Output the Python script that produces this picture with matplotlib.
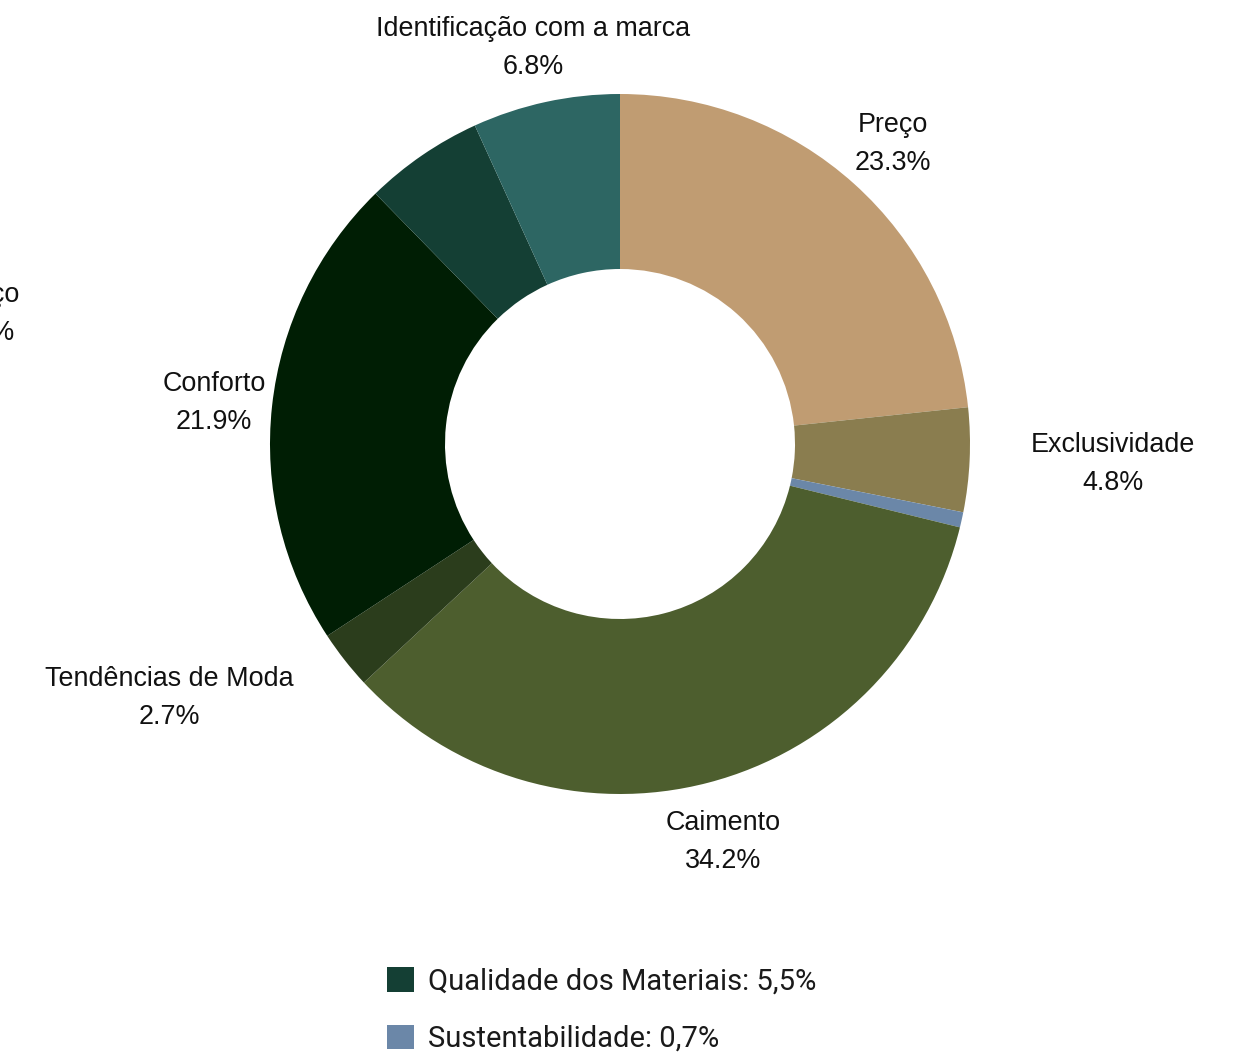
import numpy as np
import matplotlib.pyplot as plt

labels = ['Preço', 'Exclusividade', 'Sustentabilidade', 'Caimento',
          'Tendências de Moda', 'Conforto', 'Qualidade dos Materiais',
          'Identificação com a marca']
values = [23.3, 4.8, 0.7, 34.2, 2.7, 21.9, 5.5, 6.8]
colors = ['#C09C72', '#8A7D4F', '#6B87A8', '#4D5E2E',
          '#2B3D1C', '#001E04', '#143F34', '#2D6663']
# how far out each slice label sits (None = shown in legend instead)
label_dist = [1.166, 1.41, None, 1.166, 1.475, 1.166, None, 1.166]
label_turn = [0, 0.6, 0, 0, -9, 0, 0, 0]  # degrees, to keep labels apart
legend_items = ['Qualidade dos Materiais', 'Sustentabilidade']

W, H = 1238, 1052
R = 350
cx, cy = 620, 444

fig = plt.figure(figsize=(W / 100, H / 100), dpi=100)
ax = fig.add_axes([0, 0, 1, 1])

wedges, _ = ax.pie(values, colors=colors, startangle=90, counterclock=False,
                   radius=1, wedgeprops=dict(width=0.5, linewidth=0))
ax.set_xlim(-cx / R, (W - cx) / R)
ax.set_ylim(-(H - cy) / R, cy / R)
ax.set_aspect('auto')
ax.axis('off')

lab_font = dict(family='Liberation Sans', fontsize=19.4, color='#111111',
                ha='center', va='center')
off = 19 / R
dy = -3 / R
for w, name, v, d, t in zip(wedges, labels, values, label_dist, label_turn):
    if d is None:
        continue
    a = np.deg2rad((w.theta1 + w.theta2) / 2 + t)
    x, y = d * np.cos(a), d * np.sin(a) + dy
    ax.text(x, y + off, name, **lab_font)
    ax.text(x, y - off, f'{v:.1f}%', **lab_font)

# leftover label cut off at the left edge
ax.text(-1.815, 0.38 + off + dy, 'Preço', **lab_font)
ax.text(-1.815, 0.38 - off + dy, '5.5%', **lab_font)

handles = [wedges[labels.index(n)] for n in legend_items]
leg_labels = [f"{n}: {str(values[labels.index(n)]).replace('.', ',')}%"
              for n in legend_items]
leg = fig.legend(handles, leg_labels, loc='upper left',
                 bbox_to_anchor=(387 / W, 1 - 967 / H), frameon=False,
                 borderpad=0, borderaxespad=0, handlelength=0.92,
                 handleheight=0.92, handletextpad=0.47, labelspacing=1.0,
                 prop=dict(family='Roboto', size=21, weight='normal'))
for t in leg.get_texts():
    t.set_color('#1a1a1a')

fig.savefig('out.png', dpi=100, facecolor='white')
